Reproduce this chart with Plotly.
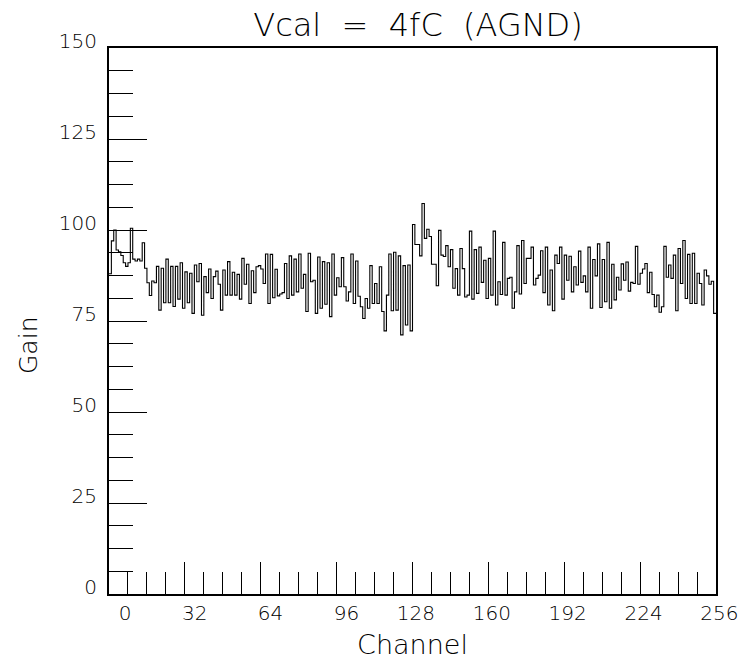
import plotly.graph_objects as go

# Gain per readout channel (256 channels)
gain = [
    88.0, 97.0, 100.0, 94.5, 94.0, 93.0, 91.0, 90.0, 91.0, 100.5,
    92.0, 91.5, 92.0, 91.5, 96.5, 89.5, 85.5, 82.0, 86.0, 85.5,
    90.0, 78.0, 89.5, 80.0, 92.0, 80.0, 90.0, 79.0, 90.0, 81.0,
    91.0, 78.5, 88.5, 80.0,
    88.1, 77.1, 90.4, 85.8, 90.8, 76.6, 87.2, 82.8, 89.3, 81.2,
    87.2, 88.7, 85.1, 78.0, 89.0, 82.1, 91.3, 82.1, 88.4, 82.1,
    87.8, 81.0, 92.2, 85.1, 90.6, 79.8, 88.8, 82.8, 89.9, 90.2,
    89.3, 85.3, 93.4, 79.8, 93.3, 81.4, 89.2, 81.9,
    82.4, 82.8, 90.8, 81.2, 92.9, 82.1, 92.0, 83.0, 93.4, 84.0,
    87.8, 77.6, 93.6, 85.8, 86.2, 77.1, 92.6, 78.5, 91.3, 79.6,
    91.0, 76.2, 93.4, 82.1, 86.9, 84.4, 92.4, 84.4, 80.5, 83.0,
    93.4, 79.8, 91.5, 81.8, 78.9, 75.7,
    81.2, 78.5, 90.2, 79.8, 85.3, 79.8, 89.9, 77.6, 72.3, 82.1,
    93.4, 77.8, 93.9, 78.0, 92.9, 71.2, 90.2, 73.9, 90.4, 72.3,
    101.5, 96.0, 96.0, 92.9, 107.3, 97.7, 100.2, 98.2, 90.6, 90.6,
    84.7, 99.9, 93.1, 92.7, 95.7, 89.9,
    94.6, 84.0, 89.4, 82.1, 94.9, 89.4, 81.6, 82.1, 99.7, 81.0,
    94.6, 82.6, 95.3, 85.6, 91.7, 81.2, 92.2, 82.1, 99.7, 79.4,
    85.8, 82.3, 96.6, 82.1, 86.7, 87.0, 78.5, 83.0, 95.7, 82.4,
    97.1, 85.3, 92.2, 92.2, 95.3, 84.9,
    86.7, 87.6, 94.3, 82.8, 95.3, 79.4, 89.0, 77.8, 93.1, 90.8,
    95.3, 81.0, 93.1, 86.2, 92.8, 83.0, 89.9, 84.9, 94.2, 85.6,
    87.4, 83.0, 95.3, 78.5, 91.9, 87.4, 96.2, 78.7, 91.9, 80.3,
    96.6, 78.5, 90.6, 80.8, 87.0, 83.5,
    90.7, 86.2, 91.2, 83.2, 85.6, 85.3, 95.5, 85.1, 88.1, 89.3,
    90.8, 82.8, 88.4, 82.3, 78.9, 82.1, 77.4, 78.9, 95.5, 87.0,
    90.4, 86.7, 93.1, 77.8, 94.9, 85.3, 97.1, 81.2, 93.3, 79.8,
    93.6, 79.8, 88.1, 85.3, 79.4, 89.0, 87.4, 85.1, 85.9, 77.1,
]

# Bin edges: channel i covers [i, i+1)
bin_edges = list(range(len(gain) + 1))

x_tick_values = [0, 32, 64, 96, 128, 160, 192, 224, 256]
y_tick_values = [0, 25, 50, 75, 100, 125, 150]

FONT = "DejaVu Sans"
LIGHT = 200

fig = go.Figure()

# Histogram outline drawn as a step line
fig.add_trace(go.Scatter(
    x=bin_edges,
    y=gain + [gain[-1]],
    mode="lines",
    line=dict(shape="hv", color="black", width=1.1),
    hoverinfo="skip",
    showlegend=False,
))

fig.update_layout(
    width=747,
    height=660,
    margin=dict(l=109, r=31, t=48, b=66, autoexpand=False),
    paper_bgcolor="white",
    plot_bgcolor="white",
    showlegend=False,
    title=dict(
        text="Vcal\u00a0\u00a0=\u00a0\u00a04fC\u00a0\u00a0(AGND)",
        font=dict(family=FONT, size=32, color="black", weight=LIGHT),
        x=418 / 747,
        xanchor="center",
        xref="container",
        y=1 - 25 / 660,
        yanchor="middle",
        yref="container",
    ),
    annotations=[
        dict(
            text="Gain",
            textangle=-90,
            font=dict(family=FONT, size=25, color="black", weight=LIGHT),
            xref="paper", yref="paper",
            x=(28 - 109) / 607, y=(594 - 346) / 546,
            xanchor="center", yanchor="middle",
            showarrow=False,
        )
    ],
)

fig.update_xaxes(
    range=[0, 256],
    automargin=False,
    tickmode="array",
    tickvals=x_tick_values,
    ticktext=[str(v) for v in x_tick_values],
    ticks="inside",
    ticklen=32,
    tickwidth=1,
    tickcolor="black",
    ticklabelposition="outside left",
    ticklabelshift=24,
    tickfont=dict(family=FONT, size=20, color="black", weight=LIGHT),
    minor=dict(ticks="inside", ticklen=22, tickwidth=1, tickcolor="black",
               tick0=0, dtick=8, showgrid=False),
    showline=True,
    linecolor="black",
    linewidth=2,
    mirror=True,
    showgrid=False,
    zeroline=False,
    title=dict(text="Channel", font=dict(family=FONT, size=27, color="black", weight=LIGHT),
               standoff=14),
)

fig.update_yaxes(
    range=[0, 150],
    automargin=False,
    tickmode="array",
    tickvals=y_tick_values,
    ticks="inside",
    ticklen=38,
    tickwidth=1,
    tickcolor="black",
    ticklabelshift=-7,
    ticklabelstandoff=6,
    tickfont=dict(family=FONT, size=20, color="black", weight=LIGHT),
    minor=dict(ticks="inside", ticklen=24, tickwidth=1, tickcolor="black",
               tick0=0, dtick=6.25, showgrid=False),
    showline=True,
    linecolor="black",
    linewidth=2,
    mirror=True,
    showgrid=False,
    zeroline=False,
)

fig.write_html("out.html")
